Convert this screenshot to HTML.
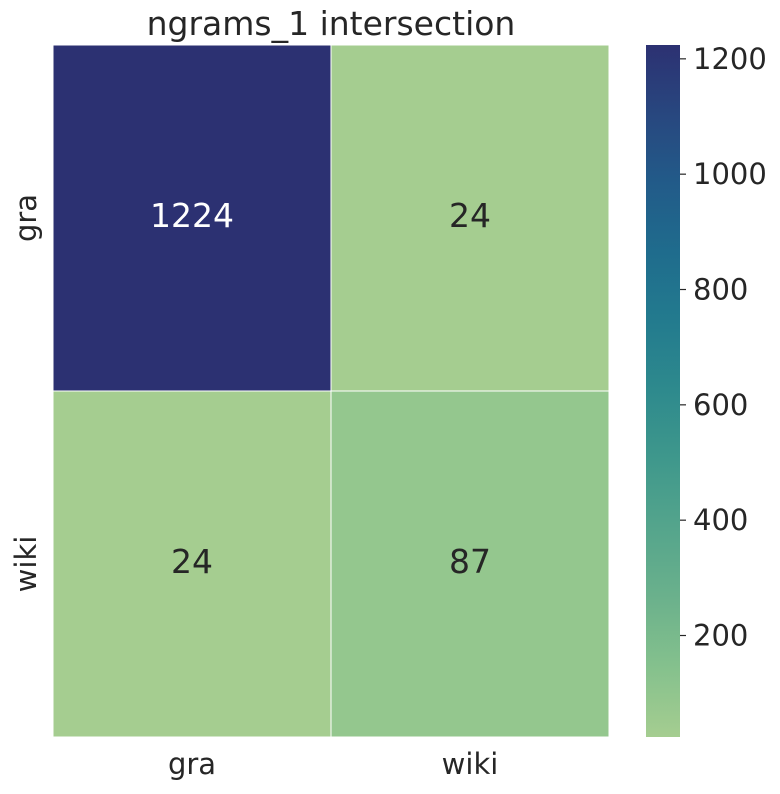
<!DOCTYPE html>
<html><head><meta charset="utf-8"><style>
body{margin:0;background:#fff;}
svg text{font-family:"DejaVu Sans","Liberation Sans",sans-serif;fill:#262626;}
</style></head><body>
<svg id="chart" width="780" height="789" xmlns="http://www.w3.org/2000/svg">
<defs><linearGradient id="crest" x1="0" y1="1" x2="0" y2="0">
<stop offset="0" stop-color="#a5cd90"/><stop offset="0.1" stop-color="#85c18d"/><stop offset="0.2" stop-color="#6bb18c"/><stop offset="0.3" stop-color="#55a58c"/><stop offset="0.4" stop-color="#3f988c"/><stop offset="0.5" stop-color="#2e8a8d"/><stop offset="0.6" stop-color="#237b8e"/><stop offset="0.7" stop-color="#1f6c8d"/><stop offset="0.8" stop-color="#225b89"/><stop offset="0.9" stop-color="#28477f"/><stop offset="1" stop-color="#2c3172"/>
</linearGradient></defs>
<text x="331" y="35" font-size="33" text-anchor="middle">ngrams_1 intersection</text>
<g id="cells"></g>
<rect x="646" y="45" width="34" height="692" fill="url(#crest)"/>
<g id="cbticks"></g>
</svg>
<script>
const rowLabels=["gra","wiki"];
const colLabels=["gra","wiki"];
const values=[[1224,24],[24,87]];
const cbTicks=[200,400,600,800,1000,1200];
const vmin=24, vmax=1224;
const stops=[[0,"#a5cd90"],[0.1,"#85c18d"],[0.2,"#6bb18c"],[0.3,"#55a58c"],[0.4,"#3f988c"],[0.5,"#2e8a8d"],[0.6,"#237b8e"],[0.7,"#1f6c8d"],[0.8,"#225b89"],[0.9,"#28477f"],[1,"#2c3172"]];
function hex(h){return [1,3,5].map(i=>parseInt(h.substr(i,2),16));}
function color(v){let t=(v-vmin)/(vmax-vmin);t=Math.max(0,Math.min(1,t));
for(let i=0;i<stops.length-1;i++){if(t<=stops[i+1][0]){const a=hex(stops[i][1]),b=hex(stops[i+1][1]);const f=(t-stops[i][0])/(stops[i+1][0]-stops[i][0]);return "rgb("+a.map((x,k)=>Math.round(x+(b[k]-x)*f)).join(",")+")";}}return stops[stops.length-1][1];}
const X0=53,X1=609,Y0=45,Y1=737;
const cw=(X1-X0)/colLabels.length, ch=(Y1-Y0)/rowLabels.length;
const NS="http://www.w3.org/2000/svg";
const g=document.getElementById("cells"), svg=document.getElementById("chart");
function mk(tag,attrs,parent){const e=document.createElementNS(NS,tag);for(const k in attrs)e.setAttribute(k,attrs[k]);parent.appendChild(e);return e;}
values.forEach((row,r)=>row.forEach((v,c)=>{
 const rect=mk("rect",{x:X0+c*cw,y:Y0+r*ch,width:cw,height:ch,fill:color(v),stroke:"#fff","stroke-width":1},g);
 
 
 const t=mk("text",{x:X0+(c+0.5)*cw,y:Y0+(r+0.5)*ch+9,"font-size":33,"text-anchor":"middle"},g);
 
 
 t.textContent=v;
 if((v-vmin)/(vmax-vmin)>0.5)t.style.fill="#fff";
}));
colLabels.forEach((l,c)=>{const t=mk("text",{x:X0+(c+0.5)*cw,y:774,"font-size":29,"text-anchor":"middle"},svg);
 
 
 t.textContent=l;});
rowLabels.forEach((l,r)=>{const y=Y0+(r+0.5)*ch;const t=mk("text",{x:0,y:0,"font-size":29,"text-anchor":"middle",transform:"translate(36,"+y+") rotate(-90)"},svg);
 
 
 t.textContent=l;});
const cb=document.getElementById("cbticks");
cbTicks.forEach(v=>{const y=Y1-(v-vmin)/(vmax-vmin)*(Y1-Y0);
 const ln=mk("line",{x1:680,x2:686,y1:y,y2:y,stroke:"#262626","stroke-width":1.2},cb);
 
 
 const t=mk("text",{x:693,y:y+10,"font-size":29},cb);
 
 
 t.textContent=v;});
</script>
</body></html>
